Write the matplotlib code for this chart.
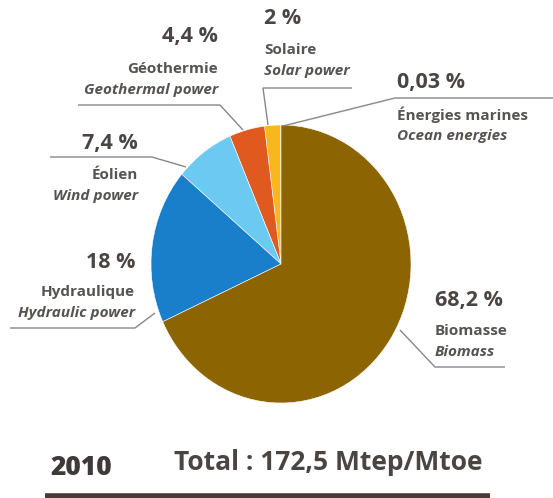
import matplotlib
matplotlib.use("Agg")
import matplotlib.pyplot as plt

labels_fr = ["Énergies marines", "Solaire", "Géothermie", "Éolien", "Hydraulique", "Biomasse"]
labels_en = ["Ocean energies", "Solar power", "Geothermal power", "Wind power", "Hydraulic power", "Biomass"]
values = [0.03, 2.0, 4.4, 7.4, 18.0, 68.2]
pct_labels = ["0,03 %", "2 %", "4,4 %", "7,4 %", "18 %", "68,2 %"]
colors = ["#3d8a4e", "#f6b81c", "#e05a1f", "#6ccaf2", "#1a7fca", "#8c6402"]
year = "2010"
total_text = "Total : 172,5 Mtep/Mtoe"

W, H = 553, 498
fig = plt.figure(figsize=(W / 100, H / 100), dpi=100)
fig.patch.set_facecolor("white")

cx, cy, rx, ry = 281, 264, 130, 139
pax = fig.add_axes([(cx - rx) / W, (H - (cy + ry)) / H, 2 * rx / W, 2 * ry / H])
pax.pie(values, colors=colors, startangle=90, counterclock=True,
        wedgeprops=dict(linewidth=0.4, edgecolor="white"))
pax.set_aspect("auto")
pax.set_xlim(-1, 1)
pax.set_ylim(-1, 1)
pax.axis("off")

ax = fig.add_axes([0, 0, 1, 1], zorder=5)
ax.set_xlim(0, W)
ax.set_ylim(H, 0)
ax.axis("off")
ax.patch.set_alpha(0)

font = "Open Sans"
pc = "#4a4543"
lc = "#575351"
linec = "#8a8686"
pfs = 15.5
lfs = 11

specs = {
    "Énergies marines": dict(p=(397, 82), l=(397, 115), ha="left",
                             line=[(553, 98), (395, 98), (283, 126)]),
    "Solaire": dict(p=(264, 18), l=(264, 50), ha="left",
                    line=[(352, 88), (263, 88), (268, 125)]),
    "Géothermie": dict(p=(218, 36), l=(218, 69), ha="right",
                       line=[(78, 105), (220, 105), (243, 130)]),
    "Éolien": dict(p=(138, 143), l=(138, 175), ha="right",
                   line=[(50, 157), (152, 157), (186, 167)]),
    "Hydraulique": dict(p=(135, 262), l=(135, 292), ha="right",
                        line=[(10, 328), (135, 328), (155, 313)]),
    "Biomasse": dict(p=(435, 300), l=(435, 331), ha="left",
                     line=[(505, 367), (435, 367), (400, 330)]),
}

for fr, en, pct in zip(labels_fr, labels_en, pct_labels):
    s = specs[fr]
    ax.text(s["p"][0], s["p"][1], pct, ha=s["ha"], va="center", fontsize=pfs,
            fontweight="bold", color=pc, family=font)
    ax.text(s["l"][0], s["l"][1], fr, ha=s["ha"], va="center", fontsize=lfs,
            fontweight="bold", color=lc, family=font)
    ax.text(s["l"][0], s["l"][1] + 21, en, ha=s["ha"], va="center", fontsize=lfs,
            fontweight="bold", style="italic", color=lc, family=font)
    xs, ys = zip(*s["line"])
    ax.plot(xs, ys, color=linec, lw=1.0, solid_capstyle="butt")

ax.text(50, 468, year, ha="left", va="center", fontsize=19, fontweight="heavy",
        color="#3f3a38", family=font)
ax.text(483, 462, total_text, ha="right", va="center", fontsize=19,
        fontweight="bold", color="#4a4442", family=font)
ax.plot([45, 490], [496, 496], color="#4a3c34", lw=4, solid_capstyle="butt")

fig.savefig("out.png", dpi=100, facecolor="white")
